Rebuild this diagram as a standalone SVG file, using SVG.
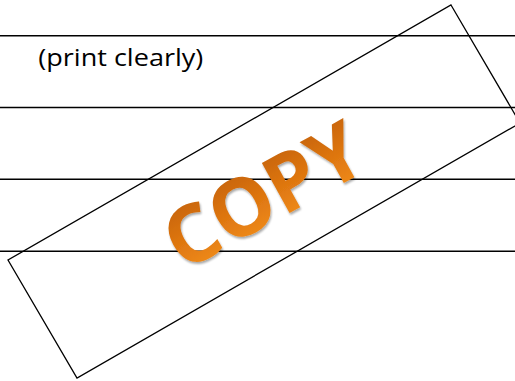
<svg xmlns="http://www.w3.org/2000/svg" width="515" height="381" viewBox="0 0 515 381">
  <defs>
    <linearGradient id="orange" x1="0" y1="0" x2="0" y2="1">
      <stop offset="0" stop-color="#b85a0a"/>
      <stop offset="0.5" stop-color="#dc740f"/>
      <stop offset="1" stop-color="#f8951f"/>
    </linearGradient>
    <filter id="shadow" x="-10%" y="-10%" width="120%" height="130%">
      <feGaussianBlur in="SourceAlpha" stdDeviation="1.2"/>
      <feOffset dx="0.5" dy="1.5" result="b"/>
      <feComponentTransfer><feFuncA type="linear" slope="0.35"/></feComponentTransfer>
      <feMerge><feMergeNode/><feMergeNode in="SourceGraphic"/></feMerge>
    </filter>
  </defs>
  <style>
    .rule { stroke: #000; stroke-width: 1.4; fill: none; }
    .label { font-family: "Open Sans", "Liberation Sans", sans-serif; font-size: 23px; fill: #000; }
    .stamp { font-family: "Open Sans", "DejaVu Sans", sans-serif; font-weight: 700; font-size: 80px; fill: url(#orange); }
    .frame { fill: none; stroke: #000; stroke-width: 1.3; }
  </style>
  <rect width="515" height="381" fill="#fff"/>
  <g id="rules">
    <line class="rule" x1="0" y1="35.7" x2="515" y2="35.7"/>
    <line class="rule" x1="0" y1="107.5" x2="515" y2="107.5"/>
    <line class="rule" x1="0" y1="179.3" x2="515" y2="179.3"/>
    <line class="rule" x1="0" y1="251.2" x2="515" y2="251.2"/>
  </g>
  <g id="label">
    <text class="label" x="38.3" y="66" textLength="165" lengthAdjust="spacingAndGlyphs">(print clearly)</text>
  </g>
  <g id="stamp-frame">
    <polygon class="frame" points="451,5 520,123 77,378 8,260"/>
  </g>
  <g id="stamp-text" filter="url(#shadow)">
    <text class="stamp" x="0" y="0" text-anchor="middle" letter-spacing="0" transform="translate(277,220) rotate(-29)">COPY</text>
  </g>
</svg>
